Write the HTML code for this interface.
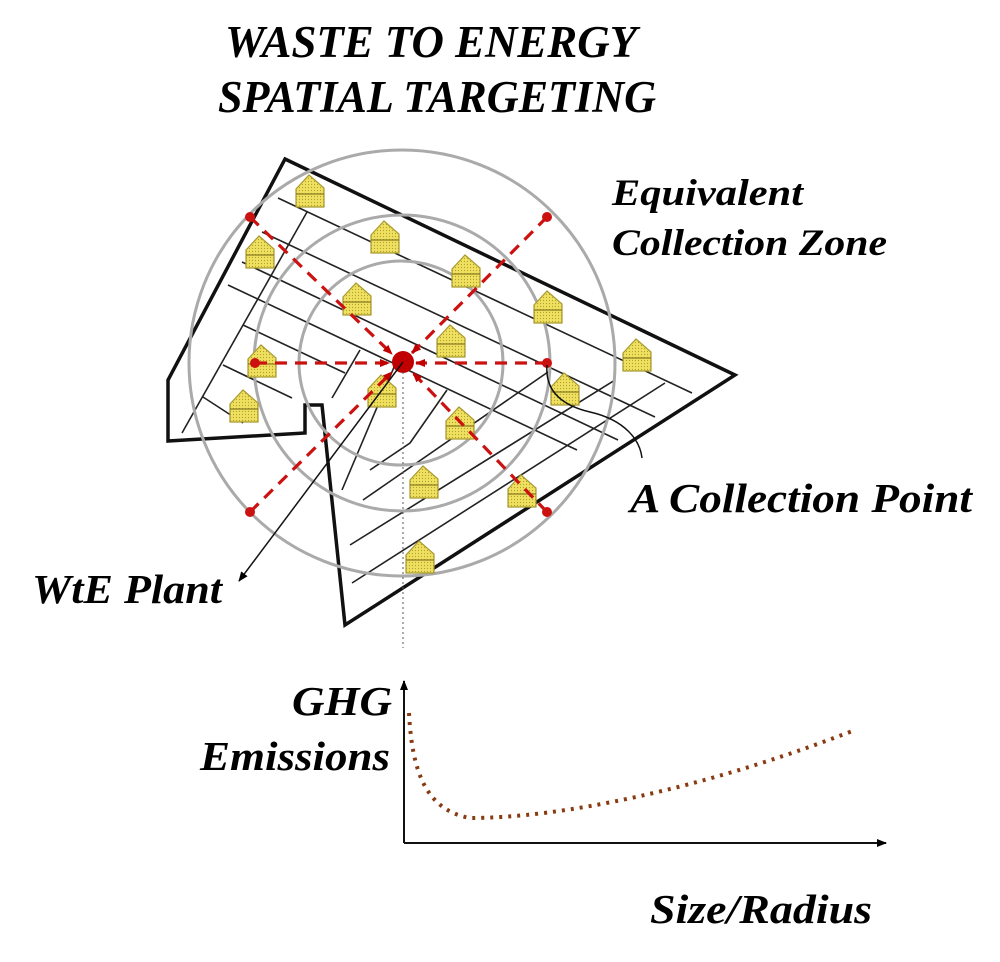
<!DOCTYPE html>
<html><head><meta charset="utf-8"><style>
html,body{margin:0;padding:0;background:#fff;}
svg{display:block;}
text{font-family:"Liberation Serif",serif;font-style:italic;font-weight:bold;fill:#000;}
</style></head><body>
<svg width="1000" height="962" viewBox="0 0 1000 962" xmlns="http://www.w3.org/2000/svg">
<defs>
<pattern id="dots" width="3" height="3" patternUnits="userSpaceOnUse">
<rect width="3" height="3" fill="#f0e060"/><circle cx="1.5" cy="1.5" r="0.6" fill="#b0a030"/>
</pattern>
<g id="house">
<path d="M-14,-3 L-1,-17 L14,-4 L14,15 L-14,15 Z" fill="url(#dots)" stroke="#a89a30" stroke-width="1.2"/>
<line x1="-14" y1="2" x2="14" y2="2" stroke="#8a7c20" stroke-width="1.2"/>
</g>
<marker id="ar" markerWidth="10" markerHeight="10" refX="9" refY="5" orient="auto" markerUnits="userSpaceOnUse">
<path d="M0,1 L10,5 L0,9 Z" fill="#000"/></marker>
<marker id="arr" markerWidth="10" markerHeight="10" refX="9" refY="5" orient="auto" markerUnits="userSpaceOnUse">
<path d="M0,1 L10,5 L0,9 Z" fill="#c00000"/></marker>
</defs>

<text x="225" y="57" font-size="45" textLength="412" lengthAdjust="spacingAndGlyphs">WASTE TO ENERGY</text>
<text x="218" y="112" font-size="45" textLength="438" lengthAdjust="spacingAndGlyphs">SPATIAL TARGETING</text>

<g stroke="#222" stroke-width="1.6" fill="none">
<line x1="278" y1="198" x2="692" y2="393"/>
<line x1="262" y1="232" x2="655" y2="417"/>
<line x1="242" y1="262" x2="618" y2="440"/>
<line x1="228" y1="285" x2="577" y2="450"/>
<line x1="243" y1="325" x2="345" y2="373"/>
<line x1="223" y1="365" x2="292" y2="398"/>
<line x1="203" y1="397" x2="243" y2="423"/>
<line x1="182" y1="433" x2="307" y2="212"/>
<line x1="332" y1="398" x2="360" y2="350"/>
<line x1="342" y1="490" x2="400" y2="353"/>
<polyline points="370,470 410,443 447,390"/>
<line x1="363" y1="500" x2="548" y2="372"/>
<line x1="350" y1="545" x2="615" y2="380"/>
<line x1="352" y1="583" x2="665" y2="383"/>
</g>

<polygon points="285,159 735,375 345,625 322,405 305,405 305,433 168,441 168,380" fill="none" stroke="#111" stroke-width="3.5" stroke-linejoin="miter"/>

<g fill="none" stroke="#aaa" stroke-width="3">
<circle cx="401" cy="363" r="102"/>
<circle cx="402" cy="363" r="148"/>
<circle cx="402" cy="363" r="213"/>
</g>

<use href="#house" x="310" y="192"/>
<use href="#house" x="385" y="238"/>
<use href="#house" x="466" y="272"/>
<use href="#house" x="548" y="308"/>
<use href="#house" x="637" y="356"/>
<use href="#house" x="260" y="253"/>
<use href="#house" x="357" y="300"/>
<use href="#house" x="451" y="342"/>
<use href="#house" x="565" y="390"/>
<use href="#house" x="262" y="362"/>
<use href="#house" x="244" y="407"/>
<use href="#house" x="382" y="392"/>
<use href="#house" x="460" y="424"/>
<use href="#house" x="424" y="483"/>
<use href="#house" x="522" y="492"/>
<use href="#house" x="420" y="558"/>

<g stroke="#cc1111" stroke-width="3.2" stroke-dasharray="12,8" fill="none">
<line x1="250" y1="217" x2="392" y2="354" marker-end="url(#arr)"/>
<line x1="547" y1="217" x2="412" y2="353" marker-end="url(#arr)"/>
<line x1="255" y1="363" x2="389" y2="363" marker-end="url(#arr)"/>
<line x1="547" y1="363" x2="416" y2="363" marker-end="url(#arr)"/>
<line x1="250" y1="512" x2="392" y2="372" marker-end="url(#arr)"/>
<line x1="547" y1="512" x2="413" y2="373" marker-end="url(#arr)"/>
</g>
<g fill="#cc1111">
<circle cx="250" cy="217" r="5"/><circle cx="547" cy="217" r="5"/>
<circle cx="255" cy="363" r="5"/><circle cx="547" cy="363" r="5"/>
<circle cx="250" cy="512" r="5"/><circle cx="547" cy="512" r="5"/>
<circle cx="403" cy="362" r="11" fill="#c00000"/>
</g>

<line x1="403" y1="362" x2="239" y2="581" stroke="#111" stroke-width="1.5" marker-end="url(#ar)"/>
<line x1="403" y1="372" x2="403" y2="648" stroke="#555" stroke-width="1" stroke-dasharray="2,3"/>
<path d="M547,365 C545,390 560,405 590,412 C625,420 640,440 642,458" fill="none" stroke="#111" stroke-width="1.5"/>

<text x="612" y="205" font-size="37" textLength="191" lengthAdjust="spacingAndGlyphs">Equivalent</text>
<text x="612" y="255" font-size="37" textLength="275" lengthAdjust="spacingAndGlyphs">Collection Zone</text>
<text x="630" y="512" font-size="41" textLength="342" lengthAdjust="spacingAndGlyphs">A Collection Point</text>
<text x="32" y="603" font-size="41" textLength="190" lengthAdjust="spacingAndGlyphs">WtE Plant</text>

<line x1="404" y1="843" x2="404" y2="681" stroke="#111" stroke-width="2" marker-end="url(#ar)"/>
<line x1="404" y1="843" x2="886" y2="843" stroke="#111" stroke-width="2" marker-end="url(#ar)"/>
<path d="M409,713 C412,770 425,810 470,818 C560,818 700,790 855,730" fill="none" stroke="#8a3a10" stroke-width="4" stroke-dasharray="3,6"/>

<text x="292" y="715" font-size="41" textLength="100" lengthAdjust="spacingAndGlyphs">GHG</text>
<text x="200" y="770" font-size="41" textLength="190" lengthAdjust="spacingAndGlyphs">Emissions</text>
<text x="650" y="923" font-size="41" textLength="222" lengthAdjust="spacingAndGlyphs">Size/Radius</text>
</svg>
</body></html>
